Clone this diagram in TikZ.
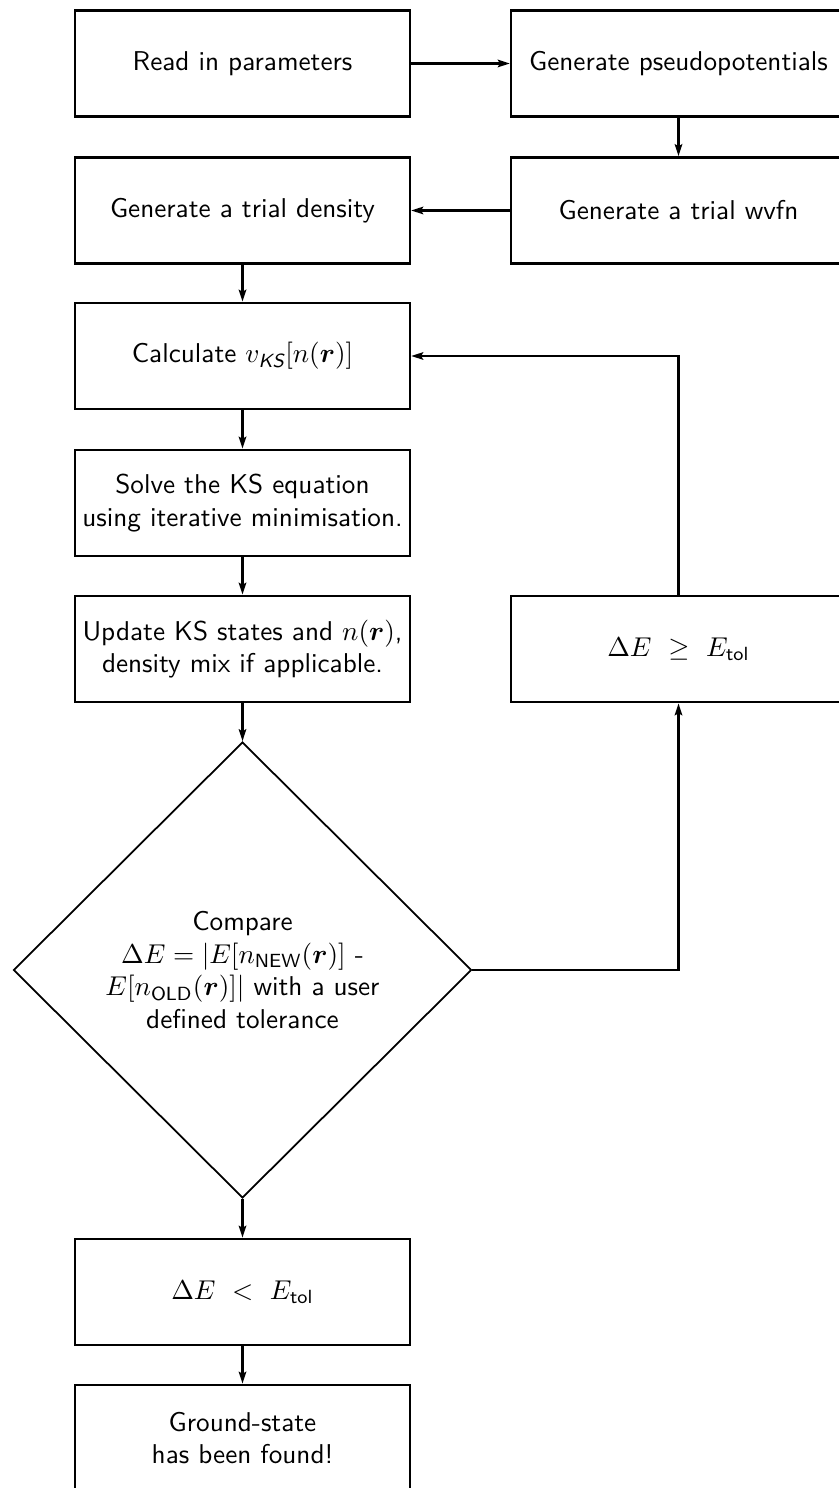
\documentclass[tikz,border=0pt]{standalone}
\usepackage{amsmath,amsbsy}
\usetikzlibrary{shapes.geometric,arrows.meta}
\begin{document}
\begin{tikzpicture}[x=0.3676pt,y=-0.3676pt,
  font=\sffamily,
  stepbox/.style={draw,line width=1pt,minimum width=123.1pt,minimum height=39pt,align=center,inner sep=2pt},
  decide/.style={draw,diamond,line width=0.65pt,minimum width=168.4pt,minimum height=167.6pt,inner sep=0pt,align=center},
  conn/.style={line width=0.75pt,-{Stealth[length=4.4pt,width=2.8pt,inset=0.8pt]}}]
\useasboundingbox (0,0) rectangle (839,1488);
\node[stepbox] (A) at (242.5,63.5) {Read in parameters};
\node[stepbox] (B) at (678.5,63.5) {Generate pseudopotentials};
\node[stepbox] (C) at (678.5,210.5) {Generate a trial wvfn};
\node[stepbox] (D) at (242.5,210.5) {Generate a trial density};
\node[stepbox] (E) at (242.5,356) {Calculate $v_{\textit{KS}}[n(\boldsymbol{r})]$};
\node[stepbox] (F) at (242.5,503) {Solve the KS equation\\using iterative minimisation.};
\node[stepbox] (G) at (242.5,649) {Update KS states and $n(\boldsymbol{r})$,\\density mix if applicable.};
\node[stepbox] (H) at (678.5,649) {$\Delta E\ \geq\ E_{\text{tol}}$};
\node[decide] (K) at (242.5,970) {Compare\\$\Delta E = |E[n_{\text{NEW}}(\boldsymbol{r})]$ -\\$E[n_{\text{OLD}}(\boldsymbol{r})]|$ with a user\\defined tolerance};
\node[stepbox] (I) at (242.5,1292) {$\Delta E\ <\ E_{\text{tol}}$};
\node[stepbox] (J) at (242.5,1438) {Ground-state\\has been found!};
\draw[conn] (A) -- (B);
\draw[conn] (B) -- (C);
\draw[conn] (C) -- (D);
\draw[conn] (D) -- (E);
\draw[conn] (E) -- (F);
\draw[conn] (F) -- (G);
\draw[conn] (G) -- (K);
\draw[conn] (K.east) -| (H.south);
\draw[conn] (H.north) |- (E.east);
\draw[conn] (K) -- (I);
\draw[conn] (I) -- (J);
\end{tikzpicture}
\end{document}
